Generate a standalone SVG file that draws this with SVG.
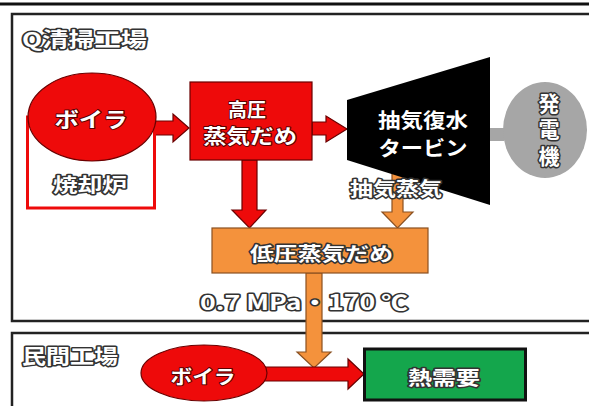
<svg xmlns="http://www.w3.org/2000/svg" width="589" height="406" viewBox="0 0 589 406">
<style>
  text { font-family: "Noto Sans CJK JP", "Noto Sans", sans-serif; font-weight: bold; dominant-baseline: central; text-anchor: middle; }
  .ol { fill: #fff; stroke: #333; stroke-width: 3; paint-order: stroke; stroke-linejoin: round; }
  .rd { fill: #fff; stroke: #5a0000; stroke-width: 2; paint-order: stroke; stroke-linejoin: round; }
  .wt { fill: #fff; }
  .frame { fill: none; stroke: #222; stroke-width: 2.5; }
  .red { fill: #ee0a0a; stroke: #6a0000; stroke-width: 1.2; }
  .org { fill: #f4923c; stroke: #8a5020; stroke-width: 1.2; }
</style>
<rect width="589" height="406" fill="#fff"/>
<line x1="0" y1="4" x2="589" y2="4" stroke="#111" stroke-width="3"/>

<g id="q-plant">
  <rect class="frame" x="12" y="14" width="600" height="307"/>
  <text class="ol" x="84.5" y="38" font-size="20" textLength="125" lengthAdjust="spacingAndGlyphs">Q清掃工場</text>
</g>
<g id="private-plant">
  <rect class="frame" x="12" y="333" width="600" height="100"/>
  <text class="ol" x="70" y="355" font-size="20" textLength="96" lengthAdjust="spacingAndGlyphs">民間工場</text>
</g>

<g id="connectors">
  <polygon class="red" points="155,121 173,121 173,114 189,128 173,142 173,135 155,135"/>
  <polygon class="red" points="312,122 326,122 326,116 347,129 326,142 326,135 312,135"/>
  <polygon class="red" points="242,160 257,160 257,210 266,210 249.5,228 232,210 242,210"/>
  <polygon class="org" points="392,160 403,160 403,212 413,212 397.5,228 382,212 392,212"/>
  <polygon class="org" points="306,273 322,273 322,352 331,352 314,368 297,352 306,352"/>
  <polygon class="red" points="262,367 348,367 348,359 364,374 348,389 348,381 262,381"/>
  <rect x="490" y="128" width="14" height="13" fill="#a6a6a6"/>
</g>

<g id="incinerator">
  <rect x="27.5" y="117" width="127" height="91" fill="#fff" stroke="#ee0a0a" stroke-width="3"/>
  <text class="ol" x="90" y="183" font-size="19" textLength="74" lengthAdjust="spacingAndGlyphs">焼却炉</text>
</g>
<g id="boiler-q">
  <ellipse class="red" cx="92" cy="117" rx="64" ry="44"/>
  <text class="rd" x="91" y="118" font-size="21" textLength="73" lengthAdjust="spacingAndGlyphs">ボイラ</text>
</g>
<g id="hp-header">
  <rect class="red" x="190" y="82" width="122" height="78"/>
  <text class="rd" x="247" y="108" font-size="19" textLength="38" lengthAdjust="spacingAndGlyphs">高圧</text>
  <text class="rd" x="250" y="135" font-size="20" textLength="94" lengthAdjust="spacingAndGlyphs">蒸気だめ</text>
</g>
<g id="turbine">
  <polygon points="347,100 490,57 490,205 347,160" fill="#000"/>
  <text class="wt" x="423" y="119" font-size="20" textLength="90" lengthAdjust="spacingAndGlyphs">抽気復水</text>
  <text class="wt" x="423" y="147" font-size="20" textLength="89" lengthAdjust="spacingAndGlyphs">タービン</text>
</g>
<g id="extraction-label">
  <text class="ol" x="396" y="187" font-size="19" textLength="92" lengthAdjust="spacingAndGlyphs">抽気蒸気</text>
</g>
<g id="generator">
  <ellipse cx="545" cy="130" rx="42" ry="48" fill="#a6a6a6"/>
  <text class="ol" x="549" y="129.5" font-size="21" writing-mode="tb" textLength="74" lengthAdjust="spacing">発電機</text>
</g>
<g id="lp-header">
  <rect class="org" x="212" y="228" width="216" height="45"/>
  <text class="ol" x="321.5" y="252" font-size="19" textLength="143" lengthAdjust="spacingAndGlyphs">低圧蒸気だめ</text>
</g>
<g id="condition-label">
  <text class="ol" x="304" y="301" font-size="21" textLength="208" lengthAdjust="spacingAndGlyphs">0.7 MPa・170 ℃</text>
</g>
<g id="boiler-private">
  <ellipse class="red" cx="204" cy="373" rx="63" ry="28"/>
  <text class="rd" x="203" y="375" font-size="19" textLength="65" lengthAdjust="spacingAndGlyphs">ボイラ</text>
</g>
<g id="heat-demand">
  <rect x="364.5" y="349" width="161" height="51" fill="#14a64c" stroke="#111" stroke-width="3"/>
  <text class="ol" x="444" y="376" font-size="19" textLength="72" lengthAdjust="spacingAndGlyphs">熱需要</text>
</g>
</svg>
